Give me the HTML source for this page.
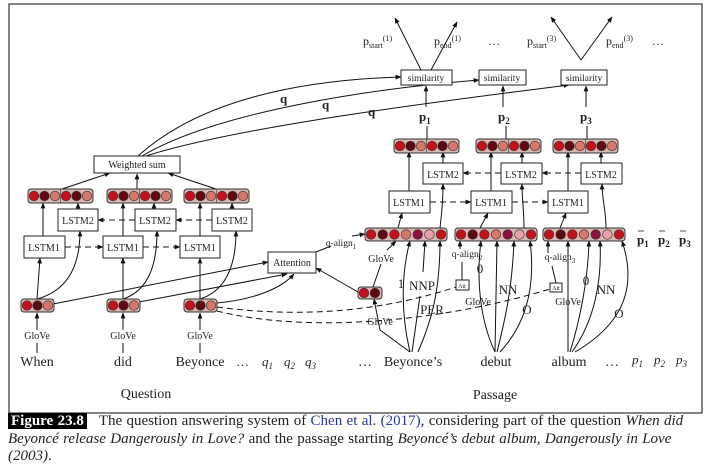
<!DOCTYPE html>
<html><head><meta charset="utf-8"><style>
html,body{margin:0;padding:0;background:#fff;}
svg{display:block;font-family:"Liberation Serif",serif;}
.cap{position:absolute;left:8px;top:413px;width:712px;font-family:"Liberation Serif",serif;font-size:15px;line-height:17.5px;color:#222;white-space:nowrap;word-spacing:0.6px;}
.fig{background:#000;color:#fff;font-weight:bold;padding:0 3px;margin-right:12px;}
.b{color:#2a3a9a;}
</style></head><body>
<div style="position:relative;width:720px;height:471px;overflow:hidden;">
<svg width="720" height="471" viewBox="0 0 720 471">
<defs>
<marker id="a" viewBox="0 0 10 10" refX="9" refY="5" markerWidth="6" markerHeight="6" orient="auto"><path d="M0,1 L10,5 L0,9z" fill="#111"/></marker>
<g id="v3"><rect x="0" y="0" width="33" height="13" rx="3" fill="#d8b8b2" stroke="#333"/><circle cx="6" cy="6.5" r="4.8" fill="#c4121c" stroke="#333" stroke-width=".6"/><circle cx="16.5" cy="6.5" r="4.8" fill="#5e0a12" stroke="#333" stroke-width=".6"/><circle cx="27" cy="6.5" r="4.8" fill="#d6776c" stroke="#333" stroke-width=".6"/></g>
<g id="v6"><rect x="0" y="0" width="65" height="14" rx="3" fill="#d8b8b2" stroke="#333"/><circle cx="6" cy="7" r="4.8" fill="#c4121c" stroke="#333" stroke-width=".6"/><circle cx="16.5" cy="7" r="4.8" fill="#5e0a12" stroke="#333" stroke-width=".6"/><circle cx="27" cy="7" r="4.8" fill="#d6776c" stroke="#333" stroke-width=".6"/><line x1="32.5" y1="0" x2="32.5" y2="14" stroke="#333" stroke-width=".6"/><circle cx="38" cy="7" r="4.8" fill="#c4121c" stroke="#333" stroke-width=".6"/><circle cx="48.5" cy="7" r="4.8" fill="#5e0a12" stroke="#333" stroke-width=".6"/><circle cx="59" cy="7" r="4.8" fill="#d6776c" stroke="#333" stroke-width=".6"/></g>
<g id="v7"><rect x="0" y="0" width="82" height="13" rx="3" fill="#d8b8b2" stroke="#333"/><circle cx="6" cy="6.5" r="4.8" fill="#c4121c" stroke="#333" stroke-width=".6"/><circle cx="17.7" cy="6.5" r="4.8" fill="#5e0a12" stroke="#333" stroke-width=".6"/><circle cx="29.4" cy="6.5" r="4.8" fill="#c4121c" stroke="#333" stroke-width=".6"/><circle cx="41" cy="6.5" r="4.8" fill="#d6776c" stroke="#333" stroke-width=".6"/><circle cx="52.7" cy="6.5" r="4.8" fill="#8c1040" stroke="#333" stroke-width=".6"/><circle cx="64.4" cy="6.5" r="4.8" fill="#eaa0aa" stroke="#333" stroke-width=".6"/><circle cx="76" cy="6.5" r="4.8" fill="#c4121c" stroke="#333" stroke-width=".6"/></g>
<g id="v2"><rect x="0" y="0" width="24" height="12" rx="3" fill="#d8b8b2" stroke="#333"/><circle cx="6" cy="6" r="4.8" fill="#c4121c" stroke="#333" stroke-width=".6"/><circle cx="17" cy="6" r="4.8" fill="#5e0a12" stroke="#333" stroke-width=".6"/></g>
</defs>
<rect x="9" y="4" width="693" height="409" fill="none" stroke="#333" stroke-width="1.2"/>
<g fill="none" stroke="#111" stroke-width="1">
<path d="M37,299 L40,258" marker-end="url(#a)"/><path d="M123,299 L123,258" marker-end="url(#a)"/><path d="M200,299 L200,258" marker-end="url(#a)"/>
<path d="M37,299 C70,290 80,262 80,231" marker-end="url(#a)"/><path d="M123,299 C150,290 157,262 157,231" marker-end="url(#a)"/><path d="M200,299 C228,290 236,262 236,231" marker-end="url(#a)"/>
<path d="M43,236 L43,203" marker-end="url(#a)"/><path d="M123,236 L123,203" marker-end="url(#a)"/><path d="M200,236 L200,203" marker-end="url(#a)"/>
<path d="M78,209 L78,203" marker-end="url(#a)"/><path d="M154,209 L154,203" marker-end="url(#a)"/><path d="M232,209 L232,203" marker-end="url(#a)"/>
<path d="M62,189 L110,173" marker-end="url(#a)"/><path d="M137,189 L137,174" marker-end="url(#a)"/><path d="M216,189 L168,173" marker-end="url(#a)"/>
<path d="M53,304 L268,262" marker-end="url(#a)"/><path d="M139,302 L287,274" marker-end="url(#a)"/><path d="M217,303 C250,300 280,290 294,274" marker-end="url(#a)"/>
<path d="M37,353 L37,343 M37,330 L37,313" marker-end="url(#a)"/><path d="M123,353 L123,343 M123,330 L123,313" marker-end="url(#a)"/><path d="M200,353 L200,343 M200,330 L200,313" marker-end="url(#a)"/>
<path d="M138,156 C200,100 300,80 401,77" marker-end="url(#a)"/><path d="M142,156 C220,110 380,88 479,80" marker-end="url(#a)"/><path d="M146,156 C240,126 450,100 569,85" marker-end="url(#a)"/>
<path d="M358,292 L316,268" marker-end="url(#a)"/>
<path d="M316,252 L331,246 M352,236 L365,234" marker-end="url(#a)"/>
<path d="M398,228 L402,213" marker-end="url(#a)"/><path d="M440,228 C442,210 443,200 443,184" marker-end="url(#a)"/>
<path d="M480,228 L488,213" marker-end="url(#a)"/><path d="M524,228 C524,210 522,200 522,184" marker-end="url(#a)"/>
<path d="M560,228 L566,213" marker-end="url(#a)"/><path d="M606,228 C606,210 602,200 602,184" marker-end="url(#a)"/>
<path d="M409,191 L409,152" marker-end="url(#a)"/><path d="M443,163 L443,152" marker-end="url(#a)"/>
<path d="M491,191 L491,152" marker-end="url(#a)"/><path d="M522,163 L522,152" marker-end="url(#a)"/>
<path d="M568,191 L568,152" marker-end="url(#a)"/><path d="M601,163 L601,152" marker-end="url(#a)"/>
<path d="M427,140 L427,126 M426,107 L426,86" marker-end="url(#a)"/><path d="M506,140 L506,126 M503,107 L503,86" marker-end="url(#a)"/><path d="M587,140 L587,126 M586,107 L586,86" marker-end="url(#a)"/>
<path d="M421,70 L395,18" marker-end="url(#a)"/><path d="M431,70 L457,22" marker-end="url(#a)"/>
<path d="M581,60 L551,17" marker-end="url(#a)"/><path d="M581,60 L612,17" marker-end="url(#a)"/>
<path d="M410,352 L380,330 L374,299" marker-end="url(#a)"/><path d="M373,287 L381,264 M387,250 L396,241" marker-end="url(#a)"/>
<path d="M410,352 C400,310 402,270 410,241" marker-end="url(#a)"/><path d="M412,352 L420,296 M423,272 L425,241" marker-end="url(#a)"/><path d="M418,352 C432,320 440,290 440,241" marker-end="url(#a)"/>
<path d="M462,280 L462,262 M460,249 L460,241" marker-end="url(#a)"/>
<path d="M495,352 C480,320 476,280 481,241" marker-end="url(#a)"/><path d="M495,352 L497,241" marker-end="url(#a)"/><path d="M497,352 C505,320 512,290 514,241" marker-end="url(#a)"/><path d="M500,352 C530,320 535,280 530,241" marker-end="url(#a)"/>
<path d="M556,283 L552,266 M548,253 L548,241" marker-end="url(#a)"/>
<path d="M568,352 L568,241" marker-end="url(#a)"/><path d="M570,352 C580,320 588,280 589,241" marker-end="url(#a)"/><path d="M572,352 C595,320 602,280 600,241" marker-end="url(#a)"/><path d="M575,352 C630,320 635,280 622,241" marker-end="url(#a)"/>
</g>
<g fill="none" stroke="#111" stroke-width="1" stroke-dasharray="6,4">
<path d="M65,247 L103,247" marker-end="url(#a)"/><path d="M143,247 L180,247" marker-end="url(#a)"/>
<path d="M212,220 L176,220" marker-end="url(#a)"/><path d="M135,220 L98,220" marker-end="url(#a)"/>
<path d="M430,202 L471,202" marker-end="url(#a)"/><path d="M512,202 L548,202" marker-end="url(#a)"/>
<path d="M581,173 L542,173" marker-end="url(#a)"/><path d="M501,173 L463,173" marker-end="url(#a)"/>
<path d="M217,307 C300,318 380,312 456,287"/><path d="M217,311 C300,332 430,325 550,289"/>
</g>
<g fill="#fff" stroke="#222" stroke-width="1">
<rect x="94" y="156" width="86" height="17"/><rect x="268" y="252" width="48" height="21"/>
<rect x="24" y="236" width="41" height="22"/><rect x="103" y="236" width="40" height="22"/><rect x="180" y="236" width="40" height="22"/>
<rect x="58" y="209" width="40" height="22"/><rect x="135" y="209" width="41" height="22"/><rect x="212" y="209" width="40" height="22"/>
<rect x="389" y="191" width="41" height="22"/><rect x="471" y="191" width="41" height="22"/><rect x="548" y="191" width="40" height="22"/>
<rect x="423" y="163" width="40" height="21"/><rect x="501" y="163" width="41" height="21"/><rect x="581" y="163" width="41" height="21"/>
<rect x="401" y="70" width="51" height="15"/><rect x="479" y="70" width="47" height="15"/><rect x="561" y="70" width="46" height="15"/>
<rect x="456" y="280" width="13" height="10"/><rect x="550" y="283" width="12" height="9"/>
</g>
<use href="#v3" x="21" y="299"/><use href="#v3" x="107" y="299"/><use href="#v3" x="184" y="299"/>
<use href="#v6" x="28" y="189"/><use href="#v6" x="107" y="189"/><use href="#v6" x="184" y="189"/>
<use href="#v6" x="394" y="139"/><use href="#v6" x="476" y="139"/><use href="#v6" x="553" y="139"/>
<use href="#v7" x="365" y="228"/><use href="#v7" x="455" y="228"/><use href="#v7" x="543" y="228"/>
<use href="#v2" x="358" y="287"/>
<g fill="#222" font-size="10" text-anchor="middle">
<text x="137" y="168">Weighted sum</text><text x="292" y="266">Attention</text>
<text x="44" y="251">LSTM1</text><text x="123" y="251">LSTM1</text><text x="200" y="251">LSTM1</text>
<text x="78" y="224">LSTM2</text><text x="155" y="224">LSTM2</text><text x="232" y="224">LSTM2</text>
<text x="409" y="206">LSTM1</text><text x="491" y="206">LSTM1</text><text x="568" y="206">LSTM1</text>
<text x="443" y="178">LSTM2</text><text x="521" y="178">LSTM2</text><text x="601" y="178">LSTM2</text>
<text x="426" y="81" font-size="9.5">similarity</text><text x="502" y="81" font-size="9.5">similarity</text><text x="584" y="81" font-size="9.5">similarity</text>
<text x="37" y="339">GloVe</text><text x="123" y="339">GloVe</text><text x="200" y="339">GloVe</text>
<text x="462" y="288" font-size="6">Att</text><text x="556" y="290" font-size="6">Att</text>
<text x="381" y="262">GloVe</text><text x="380" y="325">GloVe</text><text x="478" y="305">GloVe</text><text x="568" y="305">GloVe</text>
<text x="341" y="246" font-size="9.5">q-align<tspan font-size="7" dy="3">1</tspan></text>
<text x="467" y="257" font-size="9.5">q-align<tspan font-size="7" dy="3">2</tspan></text>
<text x="560" y="260" font-size="9.5">q-align<tspan font-size="7" dy="3">3</tspan></text>
</g>
<g fill="#222" font-size="13" text-anchor="middle">
<text x="401" y="288">1</text><text x="422" y="290">NNP</text><text x="432" y="314">PER</text>
<text x="480" y="273">0</text><text x="508" y="294">NN</text><text x="527" y="314">O</text>
<text x="586" y="285">0</text><text x="606" y="294">NN</text><text x="619" y="318">O</text>
<text x="37" y="366" font-size="14">When</text><text x="123" y="366" font-size="14">did</text><text x="200" y="366" font-size="14">Beyonce</text>
<text x="365" y="366" font-size="14">…</text><text x="413" y="366" font-size="14">Beyonce’s</text><text x="496" y="366" font-size="14">debut</text><text x="569" y="366" font-size="14">album</text><text x="612" y="366" font-size="14">…</text>
<text x="146" y="398" font-size="14">Question</text><text x="495" y="399" font-size="14">Passage</text>
</g>
<g fill="#222" font-size="13" font-style="italic">
<text x="237" y="366">…</text><text x="262" y="366">q<tspan font-size="9" dy="3">1</tspan></text><text x="284" y="366">q<tspan font-size="9" dy="3">2</tspan></text><text x="305" y="366">q<tspan font-size="9" dy="3">3</tspan></text>
<text x="632" y="364">p<tspan font-size="9" dy="3">1</tspan></text><text x="654" y="364">p<tspan font-size="9" dy="3">2</tspan></text><text x="676" y="364">p<tspan font-size="9" dy="3">3</tspan></text>
</g>
<g fill="#222" font-size="13" font-weight="bold">
<text x="280" y="103">q</text><text x="322" y="109">q</text><text x="368" y="116">q</text>
<text x="419" y="121">p<tspan font-size="9" dy="3">1</tspan></text><text x="498" y="121">p<tspan font-size="9" dy="3">2</tspan></text><text x="580" y="121">p<tspan font-size="9" dy="3">3</tspan></text>
<text x="637" y="244">p<tspan font-size="9" dy="3">1</tspan></text><text x="658" y="244">p<tspan font-size="9" dy="3">2</tspan></text><text x="679" y="244">p<tspan font-size="9" dy="3">3</tspan></text>
</g>
<g stroke="#222" stroke-width=".8"><line x1="638" y1="231" x2="644" y2="231"/><line x1="659" y1="231" x2="665" y2="231"/><line x1="680" y1="231" x2="686" y2="231"/></g>
<g fill="#222" font-size="12">
<text x="363" y="45">p<tspan font-size="8" dy="3">start</tspan><tspan font-size="8" dy="-7">(1)</tspan></text>
<text x="434" y="45">p<tspan font-size="8" dy="3">end</tspan><tspan font-size="8" dy="-7">(1)</tspan></text>
<text x="488" y="45">…</text>
<text x="527" y="45">p<tspan font-size="8" dy="3">start</tspan><tspan font-size="8" dy="-7">(3)</tspan></text>
<text x="606" y="45">p<tspan font-size="8" dy="3">end</tspan><tspan font-size="8" dy="-7">(3)</tspan></text>
<text x="652" y="45">…</text>
</g>
</svg>
<div class="cap"><span class="fig">Figure 23.8</span>The question answering system of <span class="b">Chen et al. (2017)</span>, considering part of the question <i>When did</i><br><i>Beyoncé release Dangerously in Love?</i> and the passage starting <i>Beyoncé’s debut album, Dangerously in Love</i><br><i>(2003)</i>.</div>
</div>
</body></html>
